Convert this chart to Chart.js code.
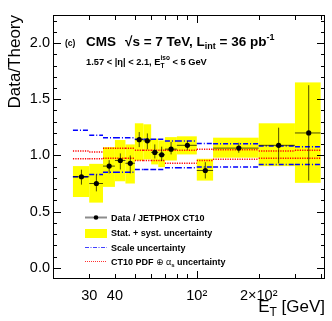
<!DOCTYPE html>
<html lang="en">
<head>
<meta charset="UTF-8">
<title>Data/Theory vs E_T</title>
<script src="https://cdn.jsdelivr.net/npm/chart.js"></script>
<style>
  body { margin: 0; background: #fff; }
  #wrap { width: 332px; height: 321px; }
</style>
</head>
<body>
<div id="wrap"><canvas id="ratioChart" width="332" height="321"></canvas></div>
<script>
// E_T bins [GeV]
const binLow  = [25, 30, 35, 40, 45, 50, 55, 60, 65, 70, 80, 100, 120, 200, 300];
const binHigh = [30, 35, 40, 45, 50, 55, 60, 65, 70, 80, 100, 120, 200, 300, 400];

// data / JETPHOX CT10 and statistical error bar ends
const ratio    = [0.81, 0.75, 0.905, 0.955, 0.93, 1.14, 1.13, 1.027, 1.006, 1.056, 1.09, 0.866, 1.065, 1.09, 1.20];
const statLow  = [0.74, 0.68, 0.84, 0.875, 0.84, 1.074, 1.054, 0.973, 0.95, 1.009, 1.05, 0.795, 1.024, 0.929, 0.776];
const statHigh = [0.873, 0.83, 0.958, 1.018, 1.0, 1.208, 1.196, 1.098, 1.078, 1.12, 1.13, 0.94, 1.113, 1.247, 1.625];

// stat. + syst. band (yellow boxes)
const bandLow  = [0.63, 0.58, 0.72, 0.77, 0.75, 0.955, 0.964, 0.92, 0.896, 0.955, 1.009, 0.776, 0.98, 0.905, 0.756];
const bandHigh = [0.905, 0.925, 1.074, 1.137, 1.098, 1.286, 1.277, 1.149, 1.134, 1.163, 1.17, 0.97, 1.158, 1.286, 1.65];

// theory uncertainties
const scaleUp   = [1.223, 1.18, 1.158, 1.158, 1.158, 1.143, 1.143, 1.143, 1.143, 1.128, 1.128, 1.107, 1.104, 1.083, 1.077];
const scaleDown = [0.81, 0.83, 0.85, 0.85, 0.85, 0.875, 0.875, 0.875, 0.875, 0.89, 0.89, 0.896, 0.896, 0.92, 0.92];
const pdfUp     = [1.04, 1.03, 1.063, 1.063, 1.063, 1.045, 1.045, 1.045, 1.045, 1.045, 1.045, 1.054, 1.05, 1.04, 1.045];
const pdfDown   = [0.97, 0.97, 0.975, 0.975, 0.975, 0.955, 0.955, 0.955, 0.955, 0.93, 0.93, 0.955, 0.965, 0.975, 0.975];

// axis labels
const xTickLabels = { 30: '30', 40: '40', 100: '10\u00b2', 200: '2\u00d710\u00b2' };
const yTickLabels = [0, 0.5, 1.0, 1.5, 2.0];
const xMinorTicks = [30, 40, 50, 60, 70, 80, 90, 200, 300, 400];
const xMajorTicks = [100];

const FONT = '"Liberation Sans", Arial, Helvetica, "DejaVu Sans", sans-serif';

// horizontal segment per bin, broken between bins
function stepData(vals) {
    const pts = [];
    vals.forEach((v, i) => {
        pts.push({ x: binLow[i], y: v });
        pts.push({ x: binHigh[i], y: v });
        pts.push({ x: binHigh[i], y: null });
    });
    return pts;
}

function lineSet(vals, color, dash) {
    return {
        type: 'line',
        data: stepData(vals),
        borderColor: color,
        borderWidth: 1.5,
        borderDash: dash,
        pointRadius: 0,
        spanGaps: false,
        fill: false
    };
}

// draw text pieces with sub/superscripts, returns end x
function drawRich(ctx, x, y, parts, measureOnly) {
    let cx = x;
    parts.forEach(p => {
        if (p.stack) {
            let w = 0;
            p.stack.forEach(s => {
                ctx.font = (s.bold ? 'bold ' : '') + s.size + 'px ' + FONT;
                if (!measureOnly) ctx.fillText(s.t, cx, y + s.dy);
                w = Math.max(w, ctx.measureText(s.t).width);
            });
            cx += w;
        } else {
            ctx.font = (p.bold ? 'bold ' : '') + p.size + 'px ' + FONT;
            if (!measureOnly) ctx.fillText(p.t, cx, y + (p.dy || 0));
            cx += ctx.measureText(p.t).width;
        }
    });
    return cx;
}

const rootStyle = {
    id: 'rootStyle',
    beforeDatasetsDraw(chart) {
        const { ctx, scales: { x, y } } = chart;
        ctx.save();
        ctx.fillStyle = '#ffff00';
        binLow.forEach((lo, i) => {
            const x0 = x.getPixelForValue(lo), x1 = x.getPixelForValue(binHigh[i]);
            const y0 = y.getPixelForValue(bandHigh[i]), y1 = y.getPixelForValue(bandLow[i]);
            ctx.fillRect(x0, y0, x1 - x0, y1 - y0);
        });
        ctx.restore();
    },
    beforeDatasetDraw(chart, args) {
        if (args.index !== 0) return;
        const { ctx, scales: { x, y } } = chart;
        ctx.save();
        ctx.strokeStyle = 'rgba(0,0,0,0.7)';
        ctx.lineWidth = 1;
        binLow.forEach((lo, i) => {
            const xc = x.getPixelForValue((lo + binHigh[i]) / 2);
            const yc = y.getPixelForValue(ratio[i]);
            ctx.beginPath();
            ctx.moveTo(x.getPixelForValue(lo), yc);
            ctx.lineTo(x.getPixelForValue(binHigh[i]), yc);
            ctx.moveTo(xc, y.getPixelForValue(statLow[i]));
            ctx.lineTo(xc, y.getPixelForValue(statHigh[i]));
            ctx.stroke();
        });
        ctx.restore();
    },
    afterDraw(chart) {
        const { ctx, chartArea: a, scales: { x, y } } = chart;
        ctx.save();

        // frame and inward ticks
        ctx.strokeStyle = '#000';
        ctx.lineWidth = 1;
        ctx.strokeRect(a.left + 0.5, a.top + 0.5, a.right - a.left - 1, a.bottom - a.top - 1);
        ctx.beginPath();
        for (let k = 0; k <= 22; k++) {
            const v = k / 10;
            const py = Math.round(y.getPixelForValue(v)) + 0.5;
            const len = (k % 5 === 0) ? 8 : 4;
            ctx.moveTo(a.left, py); ctx.lineTo(a.left + len, py);
            ctx.moveTo(a.right, py); ctx.lineTo(a.right - len, py);
        }
        xMinorTicks.concat(xMajorTicks).forEach(v => {
            const px = Math.round(x.getPixelForValue(v)) + 0.5;
            const len = xMajorTicks.includes(v) ? 8 : 5;
            ctx.moveTo(px, a.bottom); ctx.lineTo(px, a.bottom - len);
            ctx.moveTo(px, a.top); ctx.lineTo(px, a.top + len);
        });
        ctx.stroke();

        ctx.fillStyle = '#000';
        ctx.textBaseline = 'alphabetic';
        ctx.textAlign = 'left';

        // header
        ctx.font = 'bold 8.5px ' + FONT;
        ctx.fillText('(c)', 65, 45.5);
        ctx.font = 'bold 13.5px ' + FONT;
        ctx.fillText('CMS', 86, 46);
        drawRich(ctx, 125, 46, [
            { t: '\u221As = 7 TeV, L', size: 13.5, bold: true },
            { t: 'int', size: 9, bold: true, dy: 3 },
            { t: ' = 36 pb', size: 13.5, bold: true },
            { t: '-1', size: 9, bold: true, dy: -6 }
        ]);
        drawRich(ctx, 86, 65, [
            { t: '1.57 < |\u03b7| < 2.1, E', size: 9.3, bold: true },
            { stack: [
                { t: 'T', size: 6.5, bold: true, dy: 2.5 },
                { t: 'iso', size: 6.5, bold: true, dy: -5 }
            ] },
            { t: ' < 5 GeV', size: 9.3, bold: true }
        ]);

        // legend
        const lx0 = 85, lx1 = 107, tx = 111;
        ctx.strokeStyle = 'rgba(0,0,0,0.45)';
        ctx.lineWidth = 2;
        ctx.beginPath(); ctx.moveTo(lx0, 217.5); ctx.lineTo(lx1, 217.5); ctx.stroke();
        ctx.beginPath(); ctx.arc(96, 217.5, 2.3, 0, Math.PI * 2); ctx.fill();
        ctx.fillStyle = '#ffff00';
        ctx.fillRect(lx0, 229, lx1 - lx0, 9);
        ctx.lineWidth = 1;
        ctx.strokeStyle = '#4040ff';
        ctx.setLineDash([4, 1.5, 1, 1.5]);
        ctx.beginPath(); ctx.moveTo(lx0, 247.5); ctx.lineTo(lx1, 247.5); ctx.stroke();
        ctx.strokeStyle = '#ff3030';
        ctx.setLineDash([1, 1]);
        ctx.beginPath(); ctx.moveTo(lx0, 261.5); ctx.lineTo(lx1, 261.5); ctx.stroke();
        ctx.setLineDash([]);

        ctx.fillStyle = '#000';
        ctx.font = 'bold 9px ' + FONT;
        ctx.fillText('Data / JETPHOX CT10', tx, 220.5);
        ctx.fillText('Stat. + syst. uncertainty', tx, 236);
        ctx.fillText('Scale uncertainty', tx, 250.5);
        drawRich(ctx, tx, 265, [
            { t: 'CT10 PDF ', size: 9, bold: true },
            { t: '\u2295', size: 9 },
            { t: ' \u03b1', size: 9 },
            { t: 's', size: 6, bold: true, dy: 2 },
            { t: ' uncertainty', size: 9, bold: true }
        ]);

        // axis titles
        const xt = [
            { t: 'E', size: 17 },
            { t: 'T', size: 12, dy: 4 },
            { t: ' [GeV]', size: 17 }
        ];
        const w = drawRich(ctx, 0, 0, xt, true);
        drawRich(ctx, a.right - w, 312, xt);

        ctx.translate(20, a.top);
        ctx.rotate(-Math.PI / 2);
        ctx.textAlign = 'right';
        ctx.font = '17px ' + FONT;
        ctx.fillText('Data/Theory', 0, 0);
        ctx.restore();
    }
};

new Chart(document.getElementById('ratioChart'), {
    type: 'scatter',
    data: {
        datasets: [
            {
                data: binLow.map((lo, i) => ({ x: (lo + binHigh[i]) / 2, y: ratio[i] })),
                backgroundColor: '#000',
                borderWidth: 0,
                pointRadius: 2.6
            },
            lineSet(scaleUp, '#0000ff', [5, 2, 1, 2]),
            lineSet(scaleDown, '#0000ff', [5, 2, 1, 2]),
            lineSet(pdfUp, '#ff0000', [1.2, 1.2]),
            lineSet(pdfDown, '#ff0000', [1.2, 1.2])
        ]
    },
    options: {
        responsive: false,
        animation: false,
        layout: { padding: { top: 15, right: 7, left: 0, bottom: 0 } },
        plugins: { legend: { display: false }, tooltip: { enabled: false } },
        scales: {
            x: {
                type: 'logarithmic',
                min: 20,
                max: 420,
                grid: { display: false, drawTicks: false },
                border: { display: false },
                afterFit: s => { s.height = 42; },
                afterBuildTicks: s => {
                    s.ticks = Object.keys(xTickLabels).map(v => ({ value: Number(v) }));
                },
                ticks: {
                    autoSkip: false,
                    maxRotation: 0,
                    minRotation: 0,
                    padding: 8,
                    color: '#000',
                    font: { family: FONT, size: 14.5 },
                    callback: v => xTickLabels[Math.round(v)] || ''
                }
            },
            y: {
                min: -0.1,
                max: 2.25,
                grid: { display: false, drawTicks: false },
                border: { display: false },
                afterFit: s => { s.width = 53; },
                afterBuildTicks: s => {
                    s.ticks = yTickLabels.map(v => ({ value: v }));
                },
                ticks: {
                    autoSkip: false,
                    padding: 3,
                    color: '#000',
                    font: { family: FONT, size: 14.5 },
                    callback: v => v.toFixed(1)
                }
            }
        }
    },
    plugins: [rootStyle]
});
</script>
</body>
</html>
